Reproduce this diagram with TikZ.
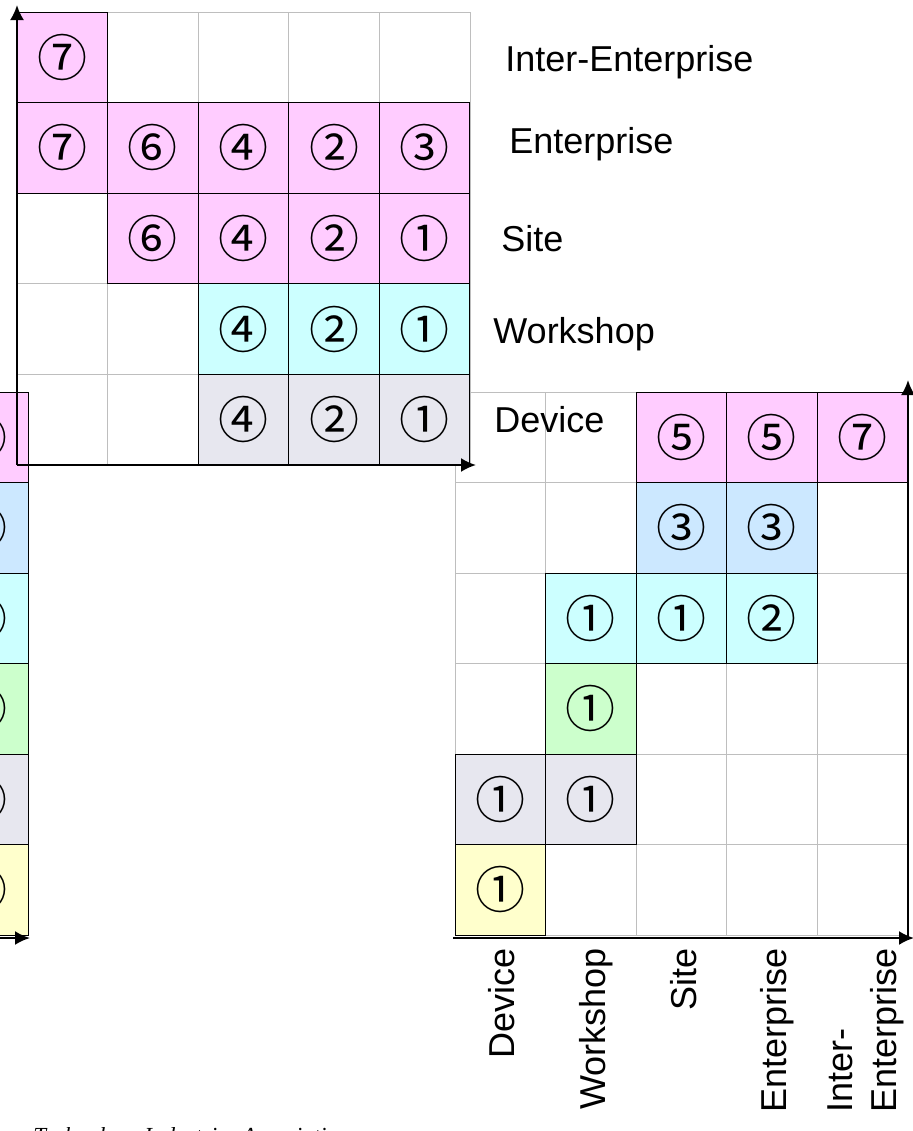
\documentclass[tikz,border=0pt]{standalone}
\usepackage{fontspec}
\setmainfont{Liberation Sans}
\newfontfamily\circfont{Noto Sans CJK JP}
\newfontfamily\srcfont{Liberation Serif}
\usetikzlibrary{arrows.meta}

\definecolor{cpink}{RGB}{255,204,255}
\definecolor{cblue}{RGB}{204,232,255}
\definecolor{ccyan}{RGB}{204,255,255}
\definecolor{cgreen}{RGB}{204,255,204}
\definecolor{cgray}{RGB}{231,231,239}
\definecolor{cyellow}{RGB}{255,255,204}
\definecolor{gridgray}{RGB}{190,190,190}

\begin{document}
\begin{tikzpicture}[x=0.5pt,y=-0.5pt,
    cellbox/.style={draw=black,line width=0.5pt,minimum size=45.25pt,inner sep=0pt,
      font=\circfont\fontsize{25}{25}\selectfont},
    lvl/.style={inner sep=0pt,font=\fontsize{18}{22}\selectfont},
    axis/.style={line width=1.1pt,-{Latex[length=7.5pt,width=7pt]}},
    thingrid/.style={draw=gridgray,line width=0.5pt}]
  \useasboundingbox (0,0) rectangle (913,1131);

  % right chart: grid
  \foreach \i in {0,...,4}
    \draw[thingrid] (455+90.5*\i,392) -- (455+90.5*\i,935);
  \foreach \j in {0,...,6}
    \draw[thingrid] (455,392+90.5*\j) -- (907.5,392+90.5*\j);
  \node[cellbox,fill=cpink] (r-1-3) at (681.25,437.25) {⑤};
  \node[cellbox,fill=cpink] (r-1-4) at (771.75,437.25) {⑤};
  \node[cellbox,fill=cpink] (r-1-5) at (862.25,437.25) {⑦};
  \node[cellbox,fill=cblue] (r-2-3) at (681.25,527.75) {③};
  \node[cellbox,fill=cblue] (r-2-4) at (771.75,527.75) {③};
  \node[cellbox,fill=ccyan] (r-3-2) at (590.75,618.25) {①};
  \node[cellbox,fill=ccyan] (r-3-3) at (681.25,618.25) {①};
  \node[cellbox,fill=ccyan] (r-3-4) at (771.75,618.25) {②};
  \node[cellbox,fill=cgreen] (r-4-2) at (590.75,708.75) {①};
  \node[cellbox,fill=cgray] (r-5-1) at (500.25,799.25) {①};
  \node[cellbox,fill=cgray] (r-5-2) at (590.75,799.25) {①};
  \node[cellbox,fill=cyellow] (r-6-1) at (500.25,889.75) {①};

  % left chart, last column only
  \foreach \col [count=\j] in {cpink,cblue,ccyan,cgreen,cgray,cyellow}
    \node[cellbox,fill=\col] (l-\j) at (-17.25,346.75+90.5*\j) {①};

  % top chart: grid
  \foreach \i in {1,...,5}
    \draw[thingrid] (17+90.6*\i,12) -- (17+90.6*\i,465);
  \foreach \j in {0,...,4}
    \draw[thingrid] (17,12+90.6*\j) -- (470,12+90.6*\j);
  \node[cellbox,fill=cpink] (t-1-1) at (62.3,57.3) {⑦};
  \node[cellbox,fill=cpink] (t-2-1) at (62.3,147.9) {⑦};
  \node[cellbox,fill=cpink] (t-2-2) at (152.9,147.9) {⑥};
  \node[cellbox,fill=cpink] (t-2-3) at (243.5,147.9) {④};
  \node[cellbox,fill=cpink] (t-2-4) at (334.1,147.9) {②};
  \node[cellbox,fill=cpink] (t-2-5) at (424.7,147.9) {③};
  \node[cellbox,fill=cpink] (t-3-2) at (152.9,238.5) {⑥};
  \node[cellbox,fill=cpink] (t-3-3) at (243.5,238.5) {④};
  \node[cellbox,fill=cpink] (t-3-4) at (334.1,238.5) {②};
  \node[cellbox,fill=cpink] (t-3-5) at (424.7,238.5) {①};
  \node[cellbox,fill=ccyan] (t-4-3) at (243.5,329.1) {④};
  \node[cellbox,fill=ccyan] (t-4-4) at (334.1,329.1) {②};
  \node[cellbox,fill=ccyan] (t-4-5) at (424.7,329.1) {①};
  \node[cellbox,fill=cgray] (t-5-3) at (243.5,419.7) {④};
  \node[cellbox,fill=cgray] (t-5-4) at (334.1,419.7) {②};
  \node[cellbox,fill=cgray] (t-5-5) at (424.7,419.7) {①};

  % axes
  \coordinate (tO) at (17,465);
  \coordinate (tY) at (17,5);
  \coordinate (tX) at (476,465);
  \coordinate (rO) at (453,938);
  \coordinate (rC) at (908,938);
  \coordinate (rX) at (914,938);
  \coordinate (rY) at (908,380);
  \coordinate (lO) at (-20,938);
  \coordinate (lX) at (30,938);
  \draw[axis] (tO) -- (tY);
  \draw[axis] (tO) -- (tX);
  \draw[axis] (rO) -- (rX);
  \draw[axis] (rC) -- (rY);
  \draw[axis] (lO) -- (lX);

  % level labels
  \node[lvl,anchor=base west] (t-inter) at (505,71) {Inter-Enterprise};
  \node[lvl,anchor=base west] (t-ent) at (509,153) {Enterprise};
  \node[lvl,anchor=base west] (t-site) at (501,251) {Site};
  \node[lvl,anchor=base west] (t-work) at (493,343) {Workshop};
  \node[lvl,anchor=base west] (t-dev) at (494,432) {Device};

  \node[lvl,rotate=90,anchor=base east] (r-dev) at (514,948) {Device};
  \node[lvl,rotate=90,anchor=base east] (r-work) at (605,948) {Workshop};
  \node[lvl,rotate=90,anchor=base east] (r-site) at (696,948) {Site};
  \node[lvl,rotate=90,anchor=base east] (r-ent) at (786,948) {Enterprise};
  \node[lvl,rotate=90,anchor=east,align=left] (r-inter) at (866,948) {Inter-\\Enterprise};

  \node[inner sep=0pt,anchor=base west,font=\srcfont\itshape\fontsize{11.5}{14}\selectfont]
    (src) at (33,1143) {Technology Industries Association};
\end{tikzpicture}
\end{document}
